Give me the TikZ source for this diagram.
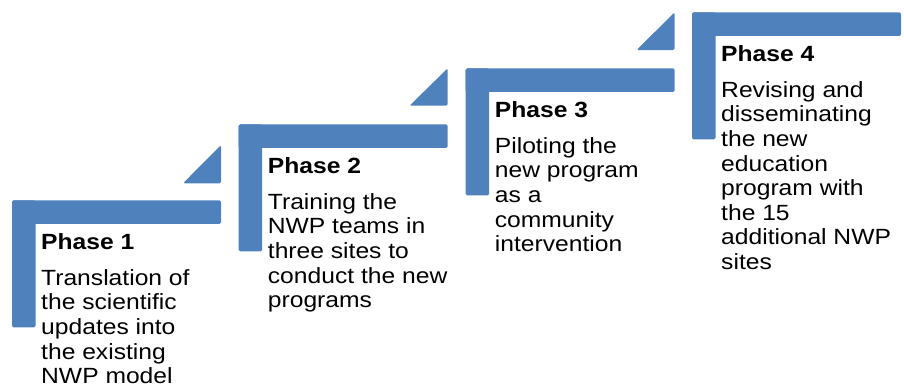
\documentclass[tikz,border=0pt]{standalone}
\usepackage{fontspec}
\setmainfont[FakeStretch=1.12]{Liberation Sans}
\usepackage{tikz}

\definecolor{stepblue}{HTML}{4F81BD}

\begin{document}
\begin{tikzpicture}[
  x=1pt, y=-1pt,
  bar/.style={fill=stepblue, rounded corners=1.5pt},
  phase/.style={anchor=north west, inner sep=0pt, align=left,
                font=\fontsize{22}{24.6}\selectfont}
]
  \useasboundingbox (0,0) rectangle (904,389);

  % step 1
  \fill[bar] (12,200.3) rectangle ++(209,23.5);
  \fill[bar] (12,200.3) rectangle ++(23.5,127);
  \fill[bar] (221,183.3) -- (221,145) -- (183,183.3) -- cycle;
  \node[phase] (p1) at (41,233.8)
    {\textbf{Phase 1}\\[10.7pt]Translation of\\the scientific\\updates into\\the existing\\NWP model};

  % step 2
  \fill[bar] (238.7,124.3) rectangle ++(209,23.5);
  \fill[bar] (238.7,124.3) rectangle ++(23.5,127);
  \fill[bar] (447.7,105.7) -- (447.7,68.3) -- (409.5,105.7) -- cycle;
  \node[phase] (p2) at (267.7,157.8)
    {\textbf{Phase 2}\\[10.7pt]Training the\\NWP teams in\\three sites to\\conduct the new\\programs};

  % step 3
  \fill[bar] (465.7,68.3) rectangle ++(209,23.5);
  \fill[bar] (465.7,68.3) rectangle ++(23.5,127);
  \fill[bar] (674.7,50) -- (674.7,12.3) -- (636.5,50) -- cycle;
  \node[phase] (p3) at (494.7,101.8)
    {\textbf{Phase 3}\\[10.7pt]Piloting the\\new program\\as a\\community\\intervention};

  % step 4
  \fill[bar] (692,12.3) rectangle ++(209,23.5);
  \fill[bar] (692,12.3) rectangle ++(23.5,127);
  \node[phase] (p4) at (721,45.8)
    {\textbf{Phase 4}\\[10.7pt]Revising and\\disseminating\\the new\\education\\program with\\the 15\\additional NWP\\sites};
\end{tikzpicture}
\end{document}
